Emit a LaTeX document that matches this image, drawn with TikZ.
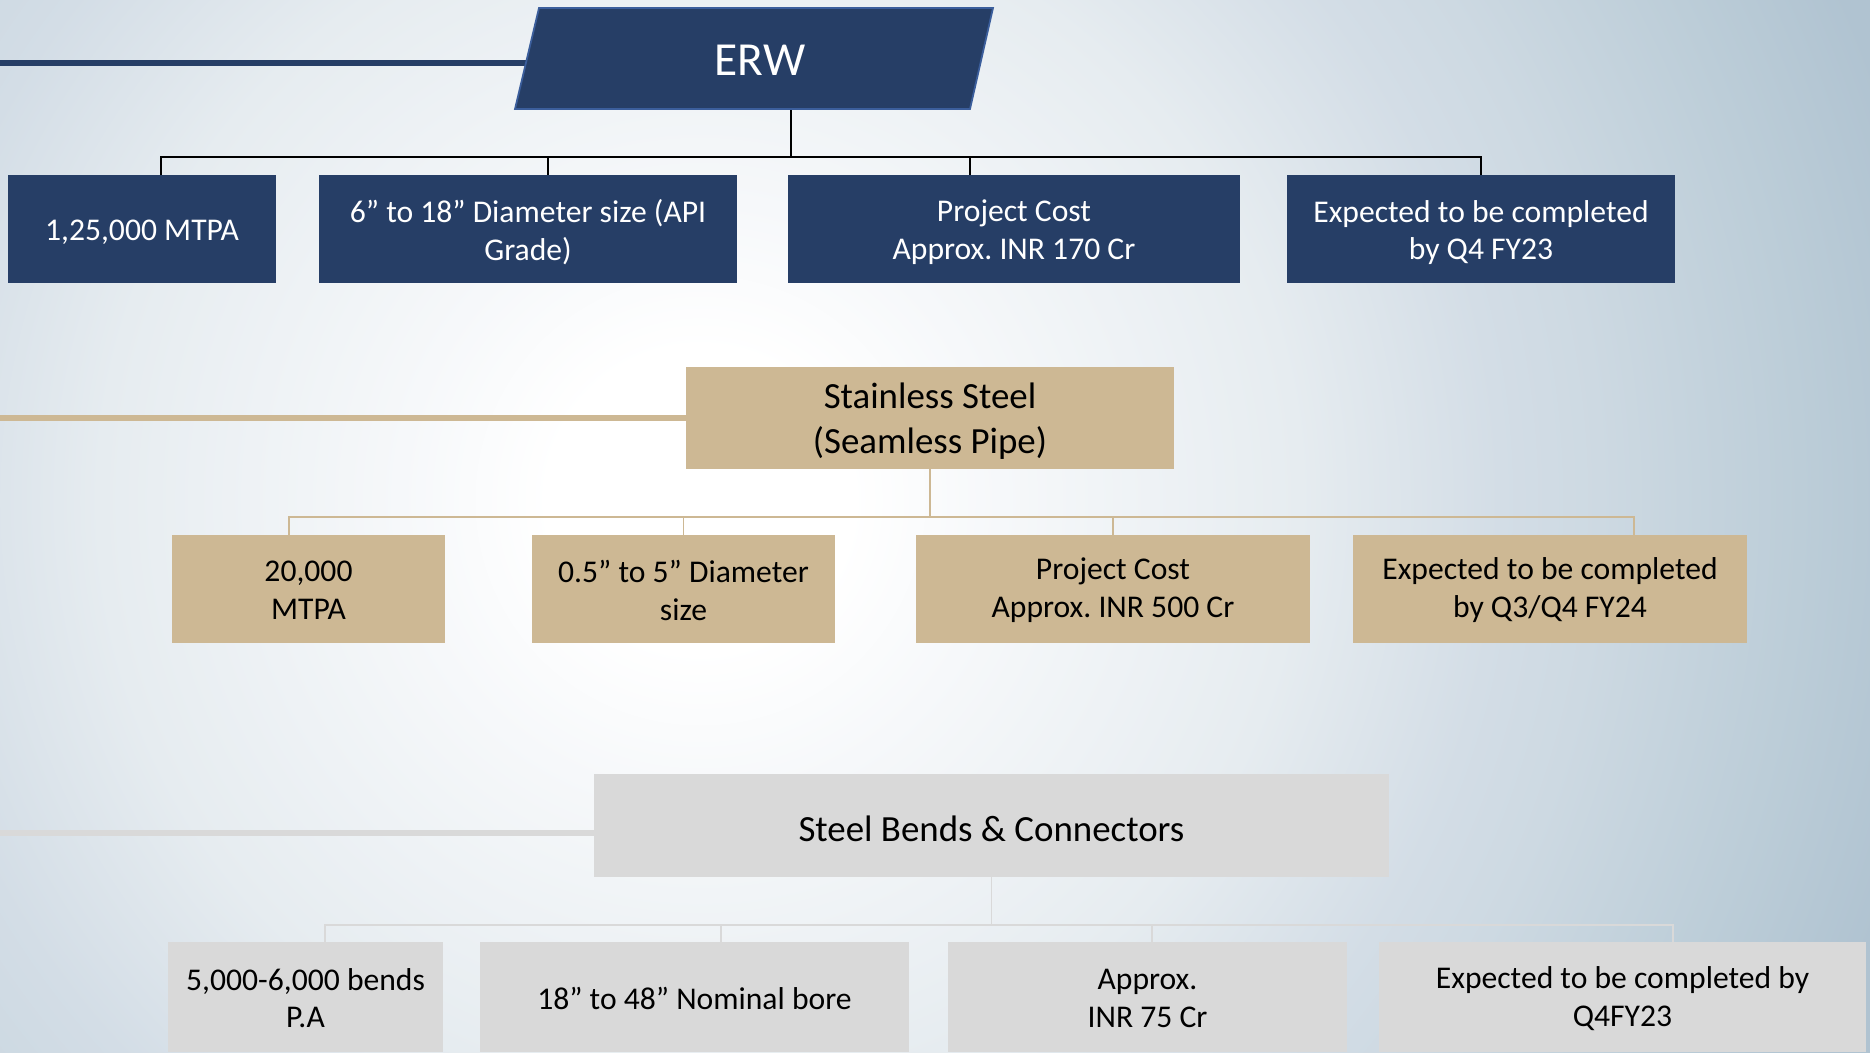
\documentclass[tikz,border=0pt]{standalone}
\usepackage{fontspec}
\setmainfont{Carlito}
\frenchspacing
\pgfdeclarelayer{back}
\pgfdeclarelayer{background}
\pgfsetlayers{back,background,main}
\definecolor{erwnavy}{HTML}{263E66}
\definecolor{erwedge}{HTML}{3B5E9C}
\definecolor{sstan}{HTML}{CDB894}
\definecolor{bendgrey}{HTML}{D9D9D9}
\definecolor{bgone}{HTML}{F6F8FA}
\definecolor{bgtwo}{HTML}{E6ECF0}
\definecolor{bgthree}{HTML}{D3DDE6}
\definecolor{bgfour}{HTML}{CDD9E2}
\definecolor{bgfive}{HTML}{BCCDD8}
\definecolor{bgsix}{HTML}{B0C3D1}
\pgfdeclareradialshading{slidebg}{\pgfpoint{0bp}{0bp}}{color(0bp)=(white); color(3bp)=(white); color(6bp)=(bgone); color(12bp)=(bgtwo); color(16bp)=(bgthree); color(18bp)=(bgfour); color(22bp)=(bgfive); color(25bp)=(bgsix); color(50bp)=(bgsix)}
\tikzstyle{boxtext}=[align=center,inner sep=0pt,font=\fontsize{18}{21.5}\selectfont,yshift=-2pt]
\tikzstyle{lowtext}=[boxtext,yshift=1.3pt]
\tikzstyle{titletext}=[boxtext,font=\fontsize{21}{25.5}\selectfont]
\tikzstyle{erwbox}=[fill=erwnavy,inner sep=0pt,minimum height=2.16cm]
\tikzstyle{ssbox}=[fill=sstan,inner sep=0pt,minimum height=2.16cm]
\tikzstyle{bendbox}=[fill=bendgrey,inner sep=0pt,minimum height=2.2cm]
\tikzstyle{erwlink}=[draw=black,line width=0.7pt]
\tikzstyle{sslink}=[draw=sstan,line width=0.9pt]
\tikzstyle{bendlink}=[draw=bendgrey,line width=0.9pt]
\tikzstyle{lead}=[line width=3.2pt]

\begin{document}
\begin{tikzpicture}[x=0.02cm,y=-0.02cm]
    \useasboundingbox (0,0) rectangle (1870,1052);
    % Background shading
    \begin{pgfonlayer}{back}
        \begin{scope}
            \clip (0,0) rectangle (1870,1052);
            \shade[shading=slidebg] (-550,-750) rectangle (1950,1750);
        \end{scope}
    \end{pgfonlayer}

    % ERW and its four facts
    \path[fill=erwnavy,draw=erwedge,line width=1pt] (515,109) -- (539,8) -- (993,8) -- (970,109) -- cycle;
    \node[minimum width=4cm,minimum height=2.02cm,inner sep=0pt,
          label={[boxtext,text=white,yshift=1pt,font=\fontsize{27}{30}\selectfont]center:ERW}] (erw) at (760,58.5) {};
    \foreach \pos/\name/\w/\txt in {{(142,229)/b1/5.36/{1,25,000 MTPA}}, {(528,229)/b2/8.36/{6” to 18” Diameter size (API\\Grade)}}, {(1014,229)/b3/9.04/{Project Cost\\Approx. INR 170 Cr}}, {(1481,229)/b4/7.76/{Expected to be completed\\by Q4 FY23}}}
        \node[erwbox,minimum width=\w cm,label={[boxtext,text=white]center:\txt}] (\name) at \pos {};

    % Stainless steel and its four facts
    \node[ssbox,minimum width=9.76cm,minimum height=2.04cm,
          label={[titletext]center:Stainless Steel\\(Seamless Pipe)}] (ss) at (930,418) {};
    \foreach \pos/\name/\w/\txt in {{(308.5,589)/c1/5.46/{20,000\\MTPA}}, {(683.5,589)/c2/6.06/{0.5” to 5” Diameter\\size}}, {(1113,589)/c3/7.88/{Project Cost\\Approx. INR 500 Cr}}, {(1550,589)/c4/7.88/{Expected to be completed\\by Q3/Q4 FY24}}}
        \node[ssbox,minimum width=\w cm,label={[lowtext]center:\txt}] (\name) at \pos {};

    % Steel bends and its four facts
    \node[bendbox,minimum width=15.9cm,minimum height=2.06cm,
          label={[titletext]center:Steel Bends \& Connectors}] (sbc) at (991.5,825.5) {};
    \foreach \pos/\name/\w/\txt in {{(305.5,997)/d1/5.5/{5,000-6,000 bends\\P.A}}, {(694.5,997)/d2/8.58/{18” to 48” Nominal bore}}, {(1147.5,997)/d3/7.98/{Approx.\\INR 75 Cr}}, {(1622.5,997)/d4/9.74/{Expected to be completed by\\Q4FY23}}}
        \node[bendbox,minimum width=\w cm,label={[lowtext]center:\txt}] (\name) at \pos {};

    % Lead lines and bus connectors
    \coordinate (erwL) at (0,63);
    \coordinate (ssL) at (0,418);
    \coordinate (sbcL) at (0,833);
    \coordinate (bus1) at (791,157);
    \coordinate (bus2) at (930,517);
    \coordinate (bus3) at (991.5,925);
    \begin{pgfonlayer}{background}
        \path[lead,draw=erwnavy] (erwL) -- (erw.west |- erwL);
        \path[lead,draw=sstan] (ssL) -- (ss.west);
        \path[lead,draw=bendgrey] (sbcL) -- (sbc.west |- sbcL);
        \path[erwlink] ([shift={(31,0)}]erw.south) -- (bus1);
        \foreach \name/\dx in {b1/19, b2/20, b3/-44, b4/0}
            \path[erwlink] ([shift={(\dx,0)}]\name.north) |- (bus1);
        \path[sslink] (ss.south) -- (bus2);
        \foreach \name/\dx in {c1/-19.5, c2/0, c3/0, c4/84}
            \path[sslink] ([shift={(\dx,0)}]\name.north) |- (bus2);
        \path[bendlink] (sbc.south) -- (bus3);
        \foreach \name/\dx in {d1/19.5, d2/26.5, d3/4.5, d4/50.5}
            \path[bendlink] ([shift={(\dx,0)}]\name.north) |- (bus3);
    \end{pgfonlayer}
\end{tikzpicture}
\end{document}
